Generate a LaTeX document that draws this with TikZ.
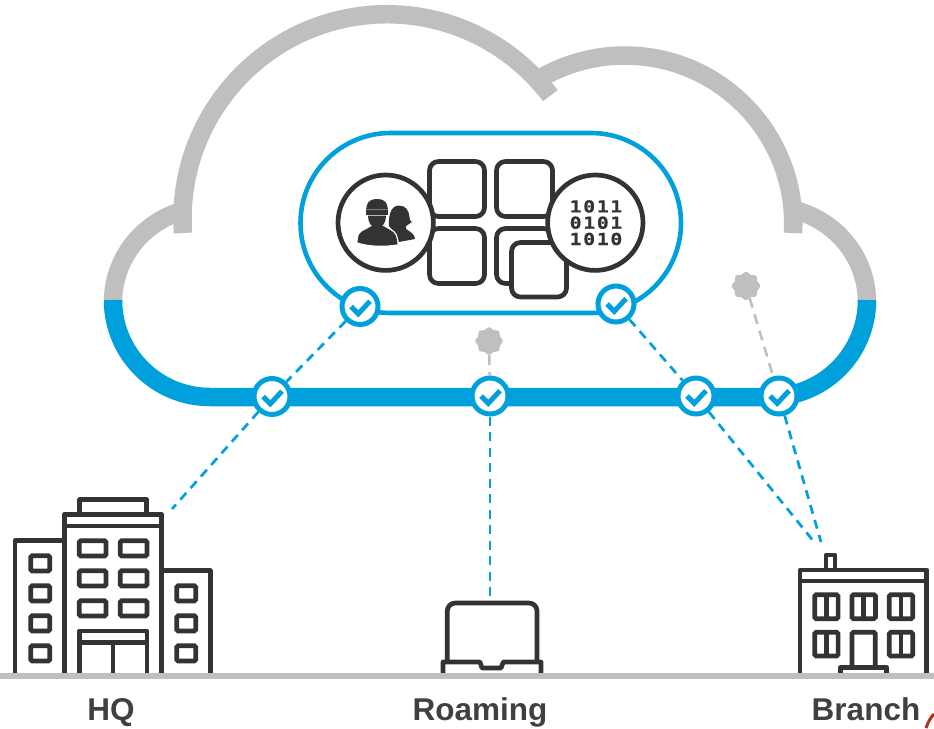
\documentclass[tikz,border=0pt]{standalone}
\usepackage{fontspec}
\setmainfont{Liberation Sans}
\newfontfamily\binfont[LetterSpace=10,FakeStretch=1.2,BoldFeatures={FakeBold=0.6}]{DejaVu Sans Mono}
\usetikzlibrary{calc,shapes.geometric}
\definecolor{netblue}{HTML}{00A0DC}
\definecolor{cloudgray}{HTML}{BFBFBF}
\definecolor{icondark}{HTML}{333333}
\definecolor{labeldark}{HTML}{404040}
\definecolor{cornerred}{HTML}{B5301F}

\begin{document}
\begin{tikzpicture}[x=1pt,y=1pt,
    cloudline/.style={line width=18.5pt,cloudgray},
    netline/.style={line width=18.5pt,netblue},
    icon/.style={draw=icondark,line width=4.7pt,line join=round},
    tile/.style={icon,rounded corners=9pt,fill=white},
    pane/.style={draw=icondark,line width=4.7pt,rounded corners=1.5pt},
    link/.style={netblue,line width=2.7pt,dash pattern=on 9pt off 6.5pt},
    ghostlink/.style={cloudgray,line width=2.6pt,dash pattern=on 10pt off 7pt},
    badge/.style={circle,draw=netblue,fill=white,line width=5pt,inner sep=0pt,
        minimum size=36pt,
        path picture={\draw[netblue,line width=5pt]
            ($(path picture bounding box.center)+(-9,0)$) --
            ++(7.3,-7.3) -- ++(11.7,12.6);}},
    burst/.style={star,star points=8,star point ratio=1.22,fill=cloudgray,
        draw=cloudgray,line width=3pt,line join=round,inner sep=0pt},
    disc/.style={circle,draw=icondark,fill=white,line width=4.7pt,inner sep=0pt,
        minimum size=95.4pt},
    place/.style={font=\fontsize{31.5}{31.5}\selectfont\bfseries,text=labeldark,anchor=base},
    ]
    \useasboundingbox (0,0) rectangle (934,-728);

    % Cloud outline
    \draw[cloudline] (793,-233) arc[start angle=-3.1,end angle=120,radius=168.4];
    \draw[cloudline] (183,-233) arc[start angle=184,end angle=37,radius=204.5];
    \draw[cloudline] (113,-302) arc[start angle=180,end angle=105,x radius=97,y radius=95];
    \draw[cloudline] (867,-302) arc[start angle=0,end angle=75,x radius=97,y radius=95];

    % Blue lower part
    \draw[netline] (113,-300) arc[start angle=180,end angle=270,radius=97]
        -- (770,-397) arc[start angle=-90,end angle=0,radius=97];

    % Pill
    \draw[netblue,line width=4.6pt,rounded corners=90pt] (300.5,-133) rectangle (681,-313);

    % Check points
    \node[badge] (chkHQ) at (360,-306.5) {};
    \node[badge] (chkData) at (616,-304) {};
    \node[badge] (chkLeft) at (272,-396.5) {};
    \node[badge] (chkMid) at (490,-396) {};
    \node[badge] (chkRight) at (696,-396) {};
    \node[badge] (chkFar) at (779,-396) {};

    % Grey bursts
    \node[burst,minimum size=25pt] (burstMid) at (489,-341) {};
    \node[burst,minimum size=26pt] (burstFar) at (746,-286) {};

    % Free ends
    \coordinate (endHQ) at (172,-509);
    \coordinate (endRoam) at (490,-598);
    \coordinate (endBranchA) at (815,-543);
    \coordinate (endBranchB) at (821,-542);

    % Links
    \draw[link] (chkHQ) -- (chkLeft);
    \draw[link] (chkLeft) -- (endHQ);
    \draw[link] (chkMid) -- (endRoam);
    \draw[link] (chkData) -- (chkRight);
    \draw[link] (chkRight) -- (endBranchA);
    \draw[link] (chkFar) -- (endBranchB);
    \draw[ghostlink] (burstMid) -- (chkMid);
    \draw[ghostlink] (burstFar) -- (chkFar);

    % Tiles
    \draw[tile] (429.5,-161.5) rectangle (484.5,-216.5);
    \draw[tile] (496.5,-161.5) rectangle (552.5,-216.5);
    \draw[tile] (429.5,-228.5) rectangle (484.5,-283.5);
    \draw[tile] (496.5,-228.5) rectangle (552.5,-283.5);
    \draw[tile] (511.5,-242.5) rectangle (566.5,-297);

    % Discs
    \node[disc] (people) at (385.7,-222.7) {};
    \node[disc] (bits) at (595.3,-222.7) {};
    \node[font=\binfont\bfseries\fontsize{16.5}{16.3}\selectfont,text=icondark,align=center,inner sep=0pt] (bitrows) at (596,-222.7) {1011\\0101\\1010};

    % People
    \fill[icondark] (399,-205.5) .. controls (406,-205.5) and (409,-211) .. (409.5,-217)
        .. controls (409.5,-220) and (410,-221) .. (412,-222) -- (406,-226) -- (406,-229)
        .. controls (411,-232) and (415,-235) .. (415,-239) -- (399,-242) -- (392,-230)
        -- (389,-226) .. controls (388.5,-220) and (389,-205.5) .. (399,-205.5) -- cycle;
    \filldraw[icondark,draw=white,line width=1.2pt] (357,-243) .. controls (357,-235) and (358,-232) .. (365,-229)
        -- (372,-225) -- (383,-225) -- (390,-229) .. controls (396,-232) and (398,-236) .. (398,-245)
        .. controls (384,-247) and (370,-247) .. cycle;
    \fill[icondark] (368,-215.7) -- (386,-215.7) .. controls (386,-222) and (383,-228) .. (377,-228)
        .. controls (371,-228) and (368,-222) .. cycle;
    \fill[icondark] (366,-210.2) rectangle (388,-215);
    \fill[icondark] (366,-209.5) -- (367,-205) .. controls (368,-201) and (372,-199) .. (377,-199)
        .. controls (382,-199) and (386,-201) .. (387,-205) -- (388,-209.5) -- cycle;

    % HQ
    \draw[icon] (79.7,-515) |- (146.7,-499.7) -- (146.7,-515);
    \draw[icon] (64.3,-673) |- (161.7,-514.3) -- (161.7,-673);
    \draw[icon] (64.3,-526) -- (161.7,-526);
    \draw[icon] (15,-673) |- (64.3,-540.7);
    \draw[icon] (161.7,-570.7) -| (210.3,-673);
    \foreach \rowy in {540.7,570.7,600.7} {
        \draw[pane] (79.3,-\rowy) rectangle +(26.7,-15.3);
        \draw[pane] (120.3,-\rowy) rectangle +(26.7,-15.3);
    }
    \foreach \rowy in {555.7,585.7,615.7,645.7}
        \draw[pane] (30.7,-\rowy) rectangle +(19,-15.3);
    \foreach \rowy in {585.7,615.7,645.7}
        \draw[pane] (176.7,-\rowy) rectangle +(19,-15.3);
    \draw[icon] (79.3,-673) |- (147,-631) -- (147,-673);
    \draw[icon] (79.3,-642.3) -- (147,-642.3);
    \draw[icon] (113,-642.3) -- (113,-673);

    % Laptop
    \draw[icon] (447.3,-662) -- (447.3,-611) arc[start angle=180,end angle=90,radius=8] -- (529,-603)
        arc[start angle=90,end angle=0,radius=8] -- (537,-662);
    \draw[icon] (443,-673) -- (443,-662) -- (480,-662) -- (482,-668) -- (501,-668) -- (503.3,-662)
        -- (541,-662) -- (541,-673);

    % Branch
    \draw[icon] (826,-570) -- (826,-555) -- (835,-555) -- (835,-570);
    \draw[icon] (800,-673) |- (926.7,-570) -- (926.7,-673);
    \draw[icon] (800,-581) -- (926.7,-581);
    \foreach \colx in {814.7,852,889.3} {
        \draw[pane] (\colx,-594.7) rectangle +(23.4,-24);
        \draw[pane] (\colx+11.7,-594.7) -- +(0,-24);
    }
    \foreach \colx in {814.7,889.3} {
        \draw[pane] (\colx,-632.3) rectangle +(23.4,-23.7);
        \draw[pane] (\colx+11.7,-632.3) -- +(0,-23.7);
    }
    \draw[pane] (852,-667) |- (875.3,-632.3) -- (875.3,-667);
    \draw[icon] (840.7,-673) |- (886.7,-667.3) -- (886.7,-673);

    % Ground
    \draw[cloudgray,line width=5.5pt] (0,-676) -- (934,-676);

    % Labels
    \node[place] (hq) at (111,-720) {HQ};
    \node[place] (roaming) at (480,-720) {Roaming};
    \node[place] (branch) at (866,-720) {Branch};

    % Corner mark
    \draw[cornerred,line width=3pt] (926,-728) .. controls (928,-722) and (931,-717) .. (934,-714);
\end{tikzpicture}
\end{document}
